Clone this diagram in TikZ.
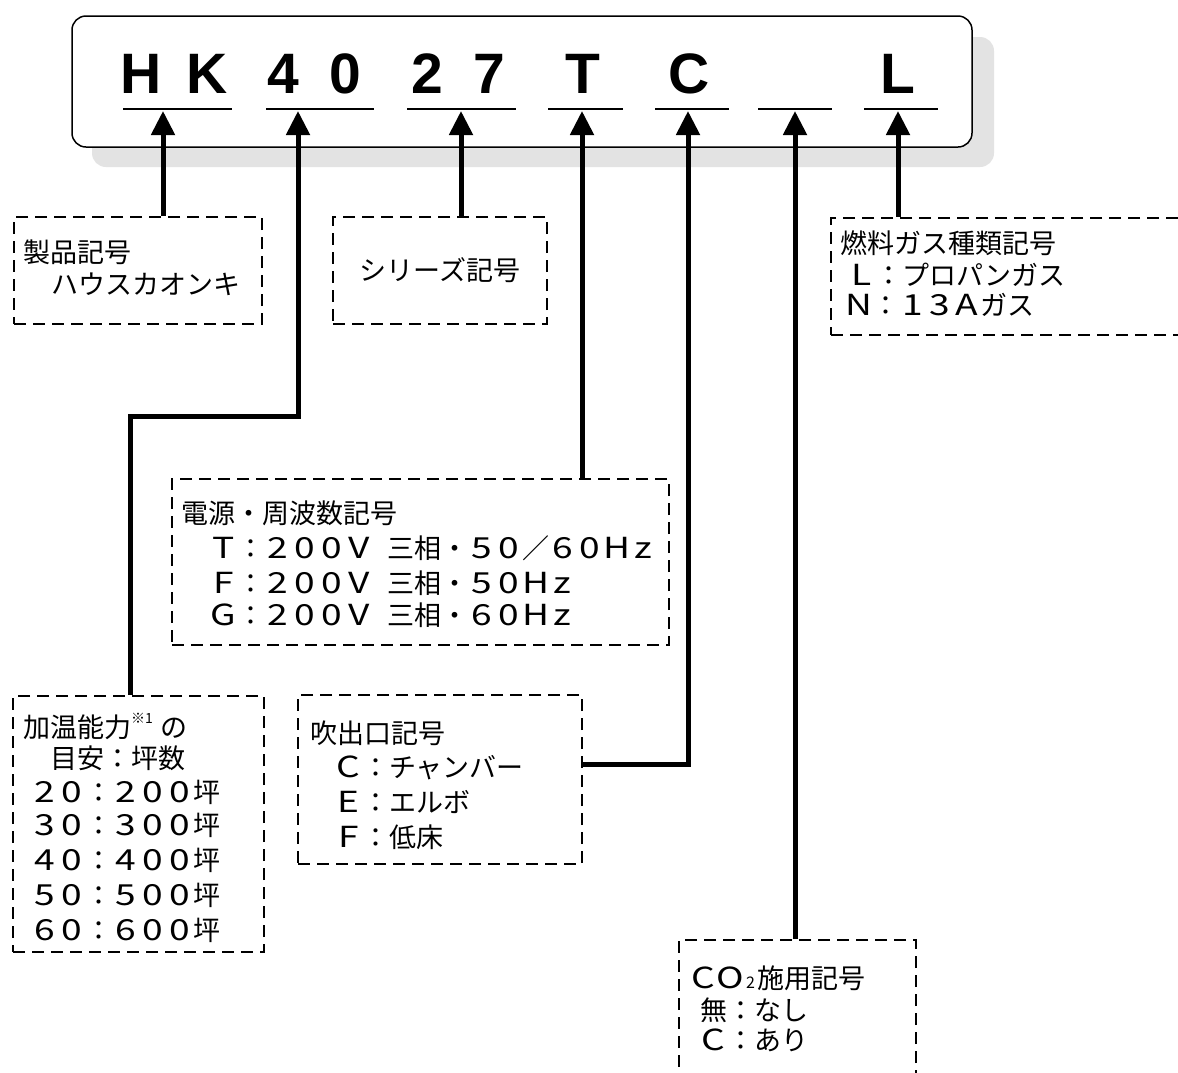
\documentclass[tikz,border=0pt]{standalone}
\usepackage{fontspec}
\usepackage{graphicx}
\setmainfont{Noto Sans CJK JP}
\newfontfamily\lsans{Liberation Sans}
\usetikzlibrary{arrows.meta}
% one wide (full-width style) Latin letter or digit in a 27pt cell
\newcommand\fw[1]{\makebox[27pt][c]{\scalebox{1.28}[1]{\fontsize{29pt}{32pt}\selectfont #1}}}
\def\fwl#1{\fwlA#1\relax}
\def\fwlA#1{\ifx#1\relax\else\fw{#1}\expandafter\fwlA\fi}
\begin{document}
\begin{tikzpicture}[x=1pt,y=-1pt,
  big/.style={anchor=base, inner sep=0pt, font=\lsans\bfseries\fontsize{57pt}{60pt}\selectfont},
  uline/.style={line width=2.6pt},
  conn/.style={line width=5pt, -{Triangle[length=24pt,width=23pt]}},
  dbox/.style={draw, line width=2.5pt, dash pattern=on 12pt off 7pt, inner sep=0pt},
  txt/.style={anchor=base west, inner sep=0pt, font=\fontsize{27pt}{32pt}\selectfont},
  ctxt/.style={anchor=base, inner sep=0pt, font=\fontsize{27pt}{32pt}\selectfont}]
\clip (0,0) rectangle (1178,1072);
\fill[white] (0,0) rectangle (1178,1072);
% shadow and main box
\fill[black!11, rounded corners=14pt] (92,37) rectangle (994,167);
\node[draw, line width=1.5pt, fill=white, rounded corners=14pt, minimum width=900pt, minimum height=131pt, inner sep=0pt] (main) at (522,81.5) {};
% letters
\node[big] (cH) at (141.5,93) {H};
\node[big] (cK) at (207.5,93) {K};
\node[big] (c4) at (283.5,93) {4};
\node[big] (c0) at (345,93) {0};
\node[big] (c2) at (427.5,93) {2};
\node[big] (c7) at (489,93) {7};
\node[big] (cT) at (582.5,93) {T};
\node[big] (cC) at (689.5,93) {C};
\node[big] (cL) at (897.5,93) {L};
% underlines
\draw[uline] (123,109) -- (232,109);
\draw[uline] (266,109) -- (374,109);
\draw[uline] (407,109) -- (516,109);
\draw[uline] (548,109) -- (623,109);
\draw[uline] (655,109) -- (729,109);
\draw[uline] (758,109) -- (832,109);
\draw[uline] (864,109) -- (938,109);
% arrow tips
\coordinate (tHK) at (163,111);
\coordinate (t40) at (298,111);
\coordinate (t27) at (461,111);
\coordinate (tT) at (582,111);
\coordinate (tC) at (688,111);
\coordinate (tB) at (795,111);
\coordinate (tL) at (898,111);
\coordinate (k40) at (130,416);
\coordinate (kC) at (600,764);
% dashed boxes
\node[dbox, minimum width=248pt, minimum height=107pt] (b1) at (138,270.5) {};
\node[dbox, minimum width=214pt, minimum height=107pt] (b2) at (440,270.5) {};
\node[dbox, minimum width=400pt, minimum height=117pt] (b3) at (1031,276.5) {};
\node[dbox, minimum width=497pt, minimum height=166pt] (b4) at (420.5,562) {};
\node[dbox, minimum width=251pt, minimum height=256pt] (b5) at (138.5,824) {};
\node[dbox, minimum width=284pt, minimum height=169pt] (b6) at (440,779.5) {};
\node[dbox, minimum width=237pt, minimum height=190pt] (b7) at (797.5,1035) {};
% connectors
\draw[conn] (tHK |- b1.north) -- (tHK);
\draw[conn] (b5.north -| k40) -- (k40) -| (t40);
\draw[conn] (t27 |- b2.north) -- (t27);
\draw[conn] (tT |- b4.north) -- (tT);
\draw[conn] (b6.east |- kC) -| (tC);
\draw[conn] (tB |- b7.north) -- (tB);
\draw[conn] (tL |- b3.north) -- (tL);
% texts box 1
\node[txt] (t11) at (23,262) {製品記号};
\node[txt] (t12) at (51,294) {ハウスカオンキ};
% box 2
\node[ctxt] (t21) at (440,280) {シリーズ記号};
% box 3
\node[txt] (t31) at (840,253) {燃料ガス種類記号};
\node[txt] (t32) at (848,285) {\fw{L}：プロパンガス};
\node[txt] (t33) at (845,315) {\fw{N}：\fwl{13A}ガス};
% box 4
\node[txt] (t41) at (181,523) {電源・周波数記号};
\node[txt] (t42) at (210,558) {\fw{T}：\fwl{200V}\hspace{15pt}三相・\fwl{50}／\fwl{60Hz}};
\node[txt] (t43) at (210,593) {\fw{F}：\fwl{200V}\hspace{15pt}三相・\fwl{50Hz}};
\node[txt] (t44) at (210,625) {\fw{G}：\fwl{200V}\hspace{15pt}三相・\fwl{60Hz}};
% box 5
\node[txt] (t51) at (23,737) {加温能力\raisebox{14pt}{\fontsize{14pt}{14pt}\selectfont ※1}\hspace{8pt}の};
\node[txt] (t52) at (50,768) {目安：坪数};
\node[txt] (t53) at (31,802) {\fwl{20}：\fwl{200}坪};
\node[txt] (t54) at (31,835) {\fwl{30}：\fwl{300}坪};
\node[txt] (t55) at (31,870) {\fwl{40}：\fwl{400}坪};
\node[txt] (t56) at (31,905) {\fwl{50}：\fwl{500}坪};
\node[txt] (t57) at (31,940) {\fwl{60}：\fwl{600}坪};
% box 6
\node[txt] (t61) at (310,743) {吹出口記号};
\node[txt] (t62) at (335,777) {\fw{C}：チャンバー};
\node[txt] (t63) at (335,812) {\fw{E}：エルボ};
\node[txt] (t64) at (335,847) {\fw{F}：低床};
% box 7
\node[txt] (t71) at (690,988) {\fwl{CO}\hspace{2pt}{\fontsize{16pt}{16pt}\selectfont 2}\hspace{2pt}施用記号};
\node[txt] (t72) at (700,1020) {無：なし};
\node[txt] (t73) at (700,1050) {\fw{C}：あり};
\end{tikzpicture}
\end{document}
